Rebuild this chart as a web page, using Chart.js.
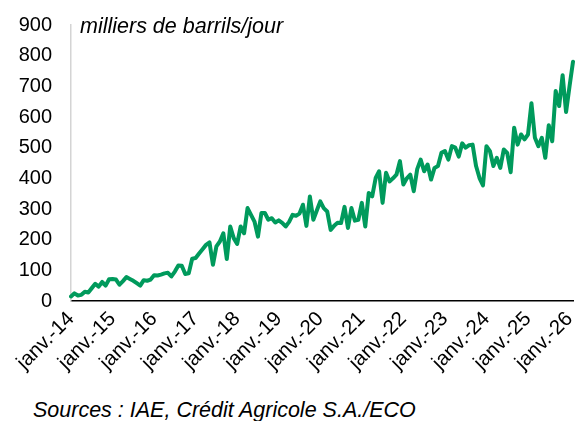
<!DOCTYPE html>
<html>
<head>
<meta charset="utf-8">
<script src="https://cdn.jsdelivr.net/npm/chart.js@4.4.0/dist/chart.umd.min.js"></script>
<style>
  body { margin: 0; background: #fff; }
  #wrap { position: relative; width: 580px; height: 421px; font-family: "Liberation Sans", Arial, sans-serif; color: #000; }
  #unit { position: absolute; left: 80px; top: 14px; font-size: 21.5px; font-style: italic; line-height: 24px; }
  #src { position: absolute; left: 33px; top: 398px; font-size: 21.5px; font-style: italic; line-height: 24px; }
</style>
</head>
<body>
<div id="wrap">
  <canvas id="chart" width="580" height="380"></canvas>
  <div id="unit">milliers de barrils/jour</div>
  <div id="src">Sources : IAE, Crédit Agricole S.A./ECO</div>
</div>
<script>
// ─── Data ───────────────────────────────────────────────
const monthNames = ["janv.", "févr.", "mars", "avr.", "mai", "juin", "juil.", "août", "sept.", "oct.", "nov.", "déc."];
const firstYear = 14;
const yTicks = [0, 100, 200, 300, 400, 500, 600, 700, 800, 900];

// production, milliers de barrils/jour (janv.-14 -> févr.-26)
const production = [
  15, 25, 18, 20, 30, 28, 42, 56, 47, 62, 50, 71,          // 2014
  72, 70, 53, 65, 78, 72, 66, 58, 50, 68, 66, 70,          // 2015
  84, 83, 86, 90, 92, 80, 96, 116, 115, 88, 90, 138,       // 2016
  140, 155, 169, 183, 191, 118, 178, 194, 221, 137, 243, 205, // 2017
  186, 243, 221, 303, 281, 259, 210, 287, 287, 265, 270, 256, // 2018
  263, 255, 243, 258, 281, 278, 285, 314, 245, 341, 265, 295, // 2019
  325, 303, 292, 232, 245, 255, 254, 307, 238, 303, 262, 265, // 2020
  320, 243, 352, 341, 401, 423, 320, 418, 390, 400, 412, 456, // 2021
  380, 400, 412, 358, 430, 461, 423, 445, 396, 434, 440, 483, // 2022
  489, 461, 505, 500, 471, 514, 500, 508, 510, 440, 401, 377, // 2023
  505, 489, 440, 467, 434, 494, 483, 420, 565, 510, 543, 527, // 2024
  543, 645, 532, 505, 532, 467, 573, 521, 685, 636, 736, 616, // 2025
  700, 780                                                  // 2026
];

const labels = production.map((_, i) =>
  `${monthNames[i % 12]}-${firstYear + Math.floor(i / 12)}`);

const FONT = "'Liberation Sans', Arial, sans-serif";

// keep the plot area where the reference has it
const noPad = (s) => { s.paddingTop = 0; s.paddingBottom = 0; s.paddingLeft = 0; s.paddingRight = 0; };

new Chart(document.getElementById("chart").getContext("2d"), {
  type: "line",
  data: {
    labels,
    datasets: [{
      data: production,
      borderColor: "#009a5c",
      borderWidth: 4,
      pointRadius: 0,
      tension: 0,
      fill: false,
      borderJoinStyle: "round",
      borderCapStyle: "round"
    }]
  },
  options: {
    responsive: false,
    animation: false,
    layout: { padding: { top: 25, right: 7, left: 0, bottom: 0 } },
    plugins: { legend: { display: false }, title: { display: false }, tooltip: { enabled: false } },
    scales: {
      x: {
        type: "category",
        offset: false,
        grid: { display: false, drawTicks: false },
        border: { display: true, color: "#000", width: 1.5 },
        ticks: {
          autoSkip: false,
          minRotation: 45,
          maxRotation: 45,
          padding: 6,
          color: "#000",
          font: { family: FONT, size: 20.5 },
          callback: (v, i) => (i % 12 === 0 ? labels[i] : "")
        },
        afterFit: (s) => { s.height = 79; noPad(s); }
      },
      y: {
        min: 0,
        max: 900,
        afterBuildTicks: (s) => { s.ticks = yTicks.map(v => ({ value: v })); },
        grid: { display: false, drawTicks: false },
        border: { display: true, color: "#d4d4d4", width: 1.5 },
        ticks: {
          padding: 19,
          color: "#000",
          font: { family: FONT, size: 20 }
        },
        afterFit: (s) => { s.width = 71; noPad(s); }
      }
    }
  }
});
</script>
</body>
</html>
